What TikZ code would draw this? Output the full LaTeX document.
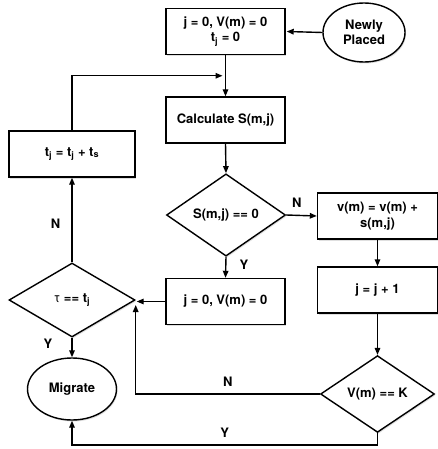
\documentclass[tikz,border=0pt]{standalone}
\usepackage{fontspec}
\setmainfont{TeX Gyre Heros}
\usetikzlibrary{arrows.meta,shapes.geometric,shadows,calc}

\begin{document}
\begin{tikzpicture}[x=1pt, y=-1pt, >={Triangle[length=7pt,width=5.5pt]},
    font=\fontsize{13}{15.5}\selectfont\bfseries, line width=1.4pt,
    base/.style={draw, fill=white, align=center, inner sep=1pt,
      drop shadow={opacity=0.25, shadow xshift=1pt, shadow yshift=-1.5pt}},
    proc/.style={base, rectangle, minimum width=119pt, minimum height=46pt},
    test/.style={base, diamond},
    term/.style={base, ellipse},
    lbl/.style={inner sep=1pt}]
  \useasboundingbox (0,0) rectangle (438,449);
  % nodes
  \node[proc] (init) at (225.5,31.5) {j = 0, V(m) = 0\\t\textsubscript{j} = 0};
  \node[term, minimum width=82pt, minimum height=59pt] (newly) at (364,32.5) {Newly\\Placed};
  \node[proc] (calc) at (225.5,120) {Calculate S(m,j)};
  \node[test, minimum width=119pt, minimum height=80pt] (szero) at (226,215) {S(m,j) == 0};
  \node[proc, minimum width=120pt] (vupd) at (377.5,216) {v(m) = v(m) +\\s(m,j)};
  \node[proc, minimum width=120pt] (jinc) at (377.5,290) {j = j + 1};
  \node[test, minimum width=114pt, minimum height=74pt] (vk) at (377.5,394) {V(m) == K};
  \node[proc] (reset) at (225.5,301.5) {j = 0, V(m) = 0};
  \node[test, minimum width=126pt, minimum height=74pt] (tau) at (72,300) {{\mdseries τ} == t\textsubscript{j}};
  \node[proc, minimum width=126pt] (tupd) at (72,154) {t\textsubscript{j} = t\textsubscript{j} + t\textsubscript{s}};
  \node[term, minimum width=89pt, minimum height=62pt] (migr) at (72,389) {Migrate};
  % helper points
  \coordinate (join) at ($(init.south)!0.5!(calc.north)$);
  \coordinate (ybot) at (0,445);
  % connectors
  \draw[->] (newly.west) -- ([xshift=1pt]init.east);
  \draw[->] (init.south) -- (calc.north);
  \draw[->] (tupd.north) |- ([xshift=-3pt]join);
  \draw[->] (calc.south) -- (szero.north);
  \draw[->] (szero.east) -- (vupd.west) node[lbl, pos=0.35, above=6pt] {N};
  \draw[->] (szero.south) -- (reset.north) node[lbl, pos=0.4, right=12pt] {Y};
  \draw[->] (vupd.south) -- (jinc.north);
  \draw[->] (jinc.south) -- (vk.north);
  \draw[->] (reset.west) -- ([xshift=1pt]reset.west -| tau.east);
  \draw[->] (vk.west) -| ([yshift=-5pt]tau.east) node[lbl, pos=0.25, above=6pt] {N};
  \draw[->] (tau.north) -- (tupd.south) node[lbl, pos=0.45, left=10pt] {N};
  \draw[->] (tau.south) -- (migr.north) node[lbl, pos=0.3, left=18pt] {Y};
  \draw[->] (vk.south) -- (vk.south |- ybot) -| (migr.south) node[lbl, pos=0.25, above=6pt] {Y};
\end{tikzpicture}
\end{document}
